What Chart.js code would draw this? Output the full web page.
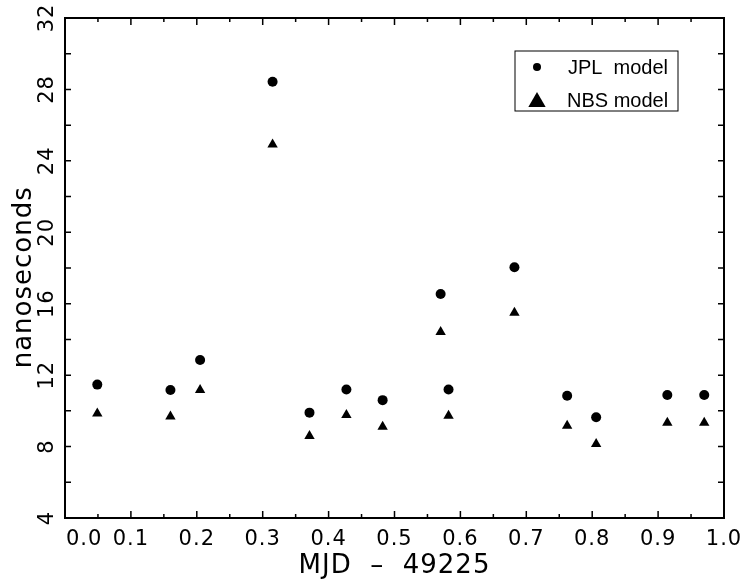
<!DOCTYPE html>
<html>
<head>
<meta charset="utf-8">
<script src="https://cdn.jsdelivr.net/npm/chart.js@4/dist/chart.umd.min.js"></script>
<style>
    html, body { margin: 0; padding: 0; background: #fff; }
    #wrap { width: 745px; height: 584px; }
</style>
</head>
<body>
<div id="wrap"><canvas id="scatter_chart"></canvas></div>
<script>
// days after MJD 49225
const mjd = [0.049, 0.160, 0.205, 0.315, 0.371, 0.427, 0.482, 0.570, 0.582, 0.682, 0.762, 0.806, 0.914, 0.970];
// delay in nanoseconds
const jplModel = [11.47, 11.17, 12.85, 28.43, 9.90, 11.20, 10.60, 16.54, 11.20, 18.04, 10.85, 9.64, 10.89, 10.89];
const nbsModel = [9.85, 9.68, 11.17, 24.92, 8.59, 9.77, 9.11, 14.41, 9.73, 15.50, 9.17, 8.14, 9.34, 9.34];
const seriesNames = ['JPL  model', 'NBS model'];

const xTickValues = [0.0, 0.1, 0.2, 0.3, 0.4, 0.5, 0.6, 0.7, 0.8, 0.9, 1.0];
const xTickLabels = ['0.0', '0.1', '0.2', '0.3', '0.4', '0.5', '0.6', '0.7', '0.8', '0.9', '1.0'];
const yTickValues = [4, 8, 12, 16, 20, 24, 28, 32];
const yTickLabels = ['4', '8', '12', '16', '20', '24', '28', '32'];

const tickFont = { family: "'DejaVu Sans', sans-serif", size: 21 };
const legendFont = "20px 'Liberation Sans', Arial, sans-serif";

const near = (a, b) => Math.abs(a - b) < 1e-6;

const toPoints = (xs, ys) => xs.map((x, i) => ({ x: x, y: ys[i] }));

const drawMarker = (ctx, style, radius, x, y) => {
    ctx.beginPath();
    if (style === 'triangle') {
        ctx.moveTo(x, y - radius);
        ctx.lineTo(x + radius * Math.sin(Math.PI / 3), y + radius / 2);
        ctx.lineTo(x - radius * Math.sin(Math.PI / 3), y + radius / 2);
        ctx.closePath();
    } else {
        ctx.arc(x, y, radius, 0, Math.PI * 2);
    }
    ctx.fill();
};

const framePlugin = {
    id: 'framePlugin',
    beforeDraw(chart) {
        chart.ctx.letterSpacing = '1px';
    },
    afterDraw(chart) {
        const { ctx, chartArea: a, scales: { x, y } } = chart;
        ctx.save();
        ctx.strokeStyle = '#000';
        ctx.lineWidth = 1.5;

        // inward tick marks on all four sides
        ctx.beginPath();
        x.ticks.forEach((t) => {
            const px = x.getPixelForValue(t.value);
            const len = xTickValues.some(v => near(v, t.value)) ? 7 : 4;
            ctx.moveTo(px, a.bottom);
            ctx.lineTo(px, a.bottom - len);
            ctx.moveTo(px, a.top);
            ctx.lineTo(px, a.top + len);
        });
        y.ticks.forEach((t) => {
            const py = y.getPixelForValue(t.value);
            ctx.moveTo(a.left, py);
            ctx.lineTo(a.left + 6, py);
            ctx.moveTo(a.right, py);
            ctx.lineTo(a.right - 6, py);
        });
        ctx.stroke();

        ctx.lineWidth = 2;
        ctx.strokeRect(a.left, a.top, a.right - a.left, a.bottom - a.top);

        // legend box in the upper right
        const box = { left: a.right - 209, top: a.top + 33, width: 163, height: 60 };
        ctx.lineWidth = 1;
        ctx.strokeRect(box.left, box.top, box.width, box.height);
        ctx.letterSpacing = '0px';
        ctx.fillStyle = '#000';
        ctx.font = legendFont;
        ctx.textBaseline = 'middle';
        ctx.textAlign = 'left';
        drawMarker(ctx, 'circle', 4, box.left + 22, box.top + 16);
        drawMarker(ctx, 'triangle', 10, box.left + 22, box.top + 51);
        ctx.fillText(seriesNames[0], box.left + 53, box.top + 17);
        ctx.fillText(seriesNames[1], box.left + 52, box.top + 50);
        ctx.restore();
    }
};

Chart.defaults.color = '#000';

const onload = () => {
    const ctx = document.getElementById('scatter_chart').getContext('2d');
    new Chart(ctx, {
        type: 'scatter',
        data: {
            datasets: [{
                label: seriesNames[0],
                data: toPoints(mjd, jplModel),
                pointStyle: 'circle',
                pointRadius: 5,
                backgroundColor: '#000',
                borderColor: '#000',
                borderWidth: 0
            }, {
                label: seriesNames[1],
                data: toPoints(mjd, nbsModel),
                pointStyle: 'triangle',
                pointRadius: 6,
                backgroundColor: '#000',
                borderColor: '#000',
                borderWidth: 0
            }]
        },
        options: {
            responsive: true,
            maintainAspectRatio: false,
            animation: false,
            layout: { padding: { top: 18, right: 21, left: 0, bottom: 0 } },
            plugins: {
                legend: { display: false },
                tooltip: { enabled: false }
            },
            scales: {
                x: {
                    type: 'linear',
                    position: 'bottom',
                    min: 0,
                    max: 1,
                    grid: { display: false },
                    border: { display: false },
                    ticks: {
                        stepSize: 0.05,
                        autoSkip: false,
                        maxRotation: 0,
                        padding: 1,
                        font: tickFont,
                        callback: (value) => {
                            const i = xTickValues.findIndex(v => near(v, value));
                            if (i < 0) return '';
                            return i === 0 ? '     ' + xTickLabels[i] : xTickLabels[i];
                        }
                    },
                    title: {
                        display: true,
                        text: 'MJD  \u2013  49225',
                        font: { family: "'DejaVu Sans', sans-serif", size: 26 },
                        padding: { top: 0, bottom: 2 }
                    },
                    afterFit: (scale) => { scale.height = 66; }
                },
                y: {
                    min: 4,
                    max: 32,
                    grid: { display: false },
                    border: { display: false },
                    ticks: {
                        stepSize: 2,
                        autoSkip: false,
                        minRotation: 90,
                        maxRotation: 90,
                        crossAlign: 'center',
                        padding: -4,
                        font: tickFont,
                        callback: (value) => {
                            const i = yTickValues.findIndex(v => near(v, value));
                            return i < 0 ? '' : yTickLabels[i];
                        }
                    },
                    title: {
                        display: true,
                        text: 'nanoseconds  ',
                        font: { family: "'DejaVu Sans', sans-serif", size: 26 },
                        padding: { top: 9, bottom: 0 }
                    },
                    afterFit: (scale) => { scale.width = 65; }
                }
            }
        },
        plugins: [framePlugin]
    });
};

document.addEventListener('DOMContentLoaded', onload);
</script>
</body>
</html>
